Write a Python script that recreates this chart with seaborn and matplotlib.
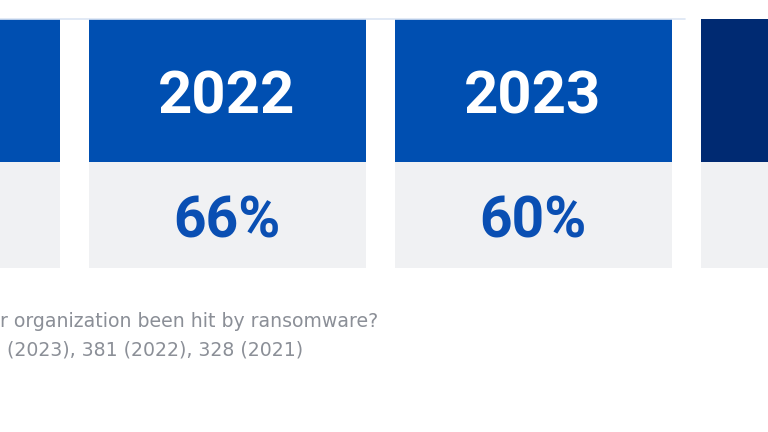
import matplotlib
matplotlib.use("Agg")
import matplotlib.pyplot as plt
import seaborn as sns
import pandas as pd

# ---- data ----
years = ["2021", "2022", "2023", "2024"]
hit_pct = [None, 66, 60, None]          # only 2022 and 2023 are visible
header_colors = ["#004fb1", "#004fb1", "#004fb1", "#002a72"]
question = "r organization been hit by ransomware?"
base_note = "(2023), 381 (2022), 328 (2021)"

sns.set_theme(style="white")
plt.rcParams['font.family'] = ['Roboto', 'DejaVu Sans']

W, H = 768, 432
fig = plt.figure(figsize=(W / 100, H / 100), dpi=100)
fig.patch.set_facecolor("white")

top_px, bot_px = 18, 268
ax = fig.add_axes([0, (H - bot_px) / H, 1, (bot_px - top_px) / H])

df = pd.DataFrame({"year": years,
                   "header": [249] * len(years),
                   "cell": [106] * len(years)})
bw = 277 / 306
sns.barplot(data=df, x="year", y="header", hue="year", palette=header_colors,
            width=bw, legend=False, ax=ax, saturation=1, linewidth=0)
sns.barplot(data=df, x="year", y="cell", color="#f0f1f3",
            width=bw, ax=ax, saturation=1, linewidth=0)

ax.set_xlim(1 - 227 / 306, 1 + 541 / 306)
ax.set_ylim(0, bot_px - top_px)
ax.axhline(249.5, xmin=0, xmax=685 / W, color="#dbe5f4", lw=1.2)
ax.axis("off")

for i, (yr, v) in enumerate(zip(years, hit_pct)):
    if v is None:
        continue
    ax.text(i, bot_px - 113, yr, ha="center", va="baseline", color="white",
            fontsize=43, fontweight="bold")
    ax.text(i, bot_px - 237, f"{v}%", ha="center", va="baseline", color="#0a4fb3",
            fontsize=41, fontweight="bold")

fig.text(0, 1 - 327 / H, question, ha="left", va="baseline", fontsize=13.6,
         color="#8b8f97", family="DejaVu Sans")
fig.text(7 / W, 1 - 356 / H, base_note, ha="left", va="baseline", fontsize=13.6,
         color="#8b8f97", family="DejaVu Sans")

fig.savefig("out.png", dpi=100)
